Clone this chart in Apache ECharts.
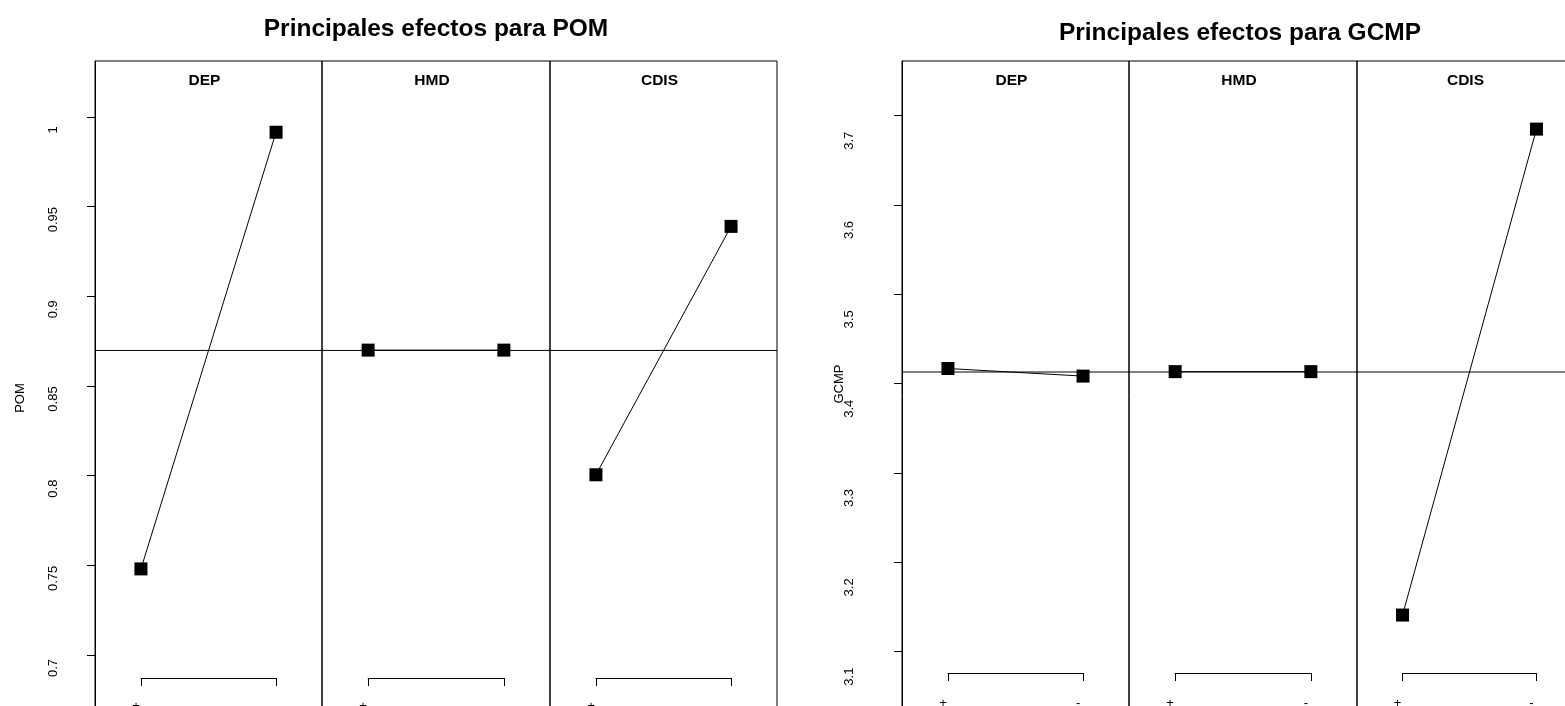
<!DOCTYPE html>
<html><head><meta charset="utf-8">
<script src="https://cdn.jsdelivr.net/npm/echarts@6/dist/echarts.min.js"></script>
<style>html,body{margin:0;padding:0;overflow:hidden;background:#fff;width:1565px;height:706px}#c{width:1600px;height:760px}</style>
</head><body><div id="c"></div>
<script>
// ---- data ----
const factors = ['DEP', 'HMD', 'CDIS'];
const levels = ['+', '-'];
const pomDEP = [0.748, 0.9915];
const pomHMD = [0.870, 0.870];
const pomCDIS = [0.8005, 0.939];
const gcmpDEP = [3.4170, 3.4085];
const gcmpHMD = [3.4135, 3.4135];
const gcmpCDIS = [3.141, 3.685];
const pomTicks = [0.7, 0.75, 0.8, 0.85, 0.9, 0.95, 1];
const gcmpTicks = [3.1, 3.2, 3.3, 3.4, 3.5, 3.6, 3.7];
const titles = ['Principales efectos para POM', 'Principales efectos para GCMP'];
const yNames = ['POM', 'GCMP'];

// ---- layout ----
const FONT = '"Liberation Sans", Arial, Helvetica, sans-serif';
const xMin = 0.66, xMax = 2.34;
const panels = [
  { left: 95, widths: [227, 228, 227], top: 61, bottom: 735, yMin: 0.65538, yMax: 1.03123,
    ticks: pomTicks, vals: [pomDEP, pomHMD, pomCDIS], tickMargin: 35, labelShift: 13,
    name: yNames[0], nameX: 20, nameY: 398, title: titles[0], titleX: 436, titleY: 29,
    bracketY: 678, bracketMargin: 22 },
  { left: 902, widths: [227, 228, 225], top: 61, bottom: 730, yMin: 3.01232, yMax: 3.76125,
    ticks: gcmpTicks, vals: [gcmpDEP, gcmpHMD, gcmpCDIS], tickMargin: 46, labelShift: 25,
    name: yNames[1], nameX: 839, nameY: 384, title: titles[1], titleX: 1240, titleY: 33,
    bracketY: 673, bracketMargin: 24 }
];

const grids = [], xAxes = [], yAxes = [], series = [], graphics = [];
const black = '#000';

panels.forEach(p => {
  const all = p.vals.flat();
  const mean = all.reduce((a, b) => a + b, 0) / all.length;
  let L = p.left;
  p.vals.forEach((vals, j) => {
    const W = p.widths[j];
    const gi = grids.length;
    grids.push({ left: L, top: p.top, width: W, height: p.bottom - p.top, show: true,
      borderColor: black, borderWidth: 1, backgroundColor: 'transparent' });
    xAxes.push({ type: 'value', gridIndex: gi, min: xMin, max: xMax, show: false });
    yAxes.push({ type: 'value', gridIndex: gi, min: p.yMin, max: p.yMax, show: j === 0,
      axisLine: { show: true, lineStyle: { color: black, width: 1 } },
      axisTick: { show: true, length: 8, customValues: p.ticks, lineStyle: { color: black } },
      axisLabel: { rotate: 90, margin: p.tickMargin, fontSize: 13, color: black, fontFamily: FONT,
        customValues: p.ticks, padding: [0, 2 * p.labelShift, 0, 0] },
      splitLine: { show: false } });
    // grand mean line across the sub-panel
    series.push({ type: 'line', xAxisIndex: gi, yAxisIndex: gi, silent: true, symbol: 'none',
      data: [[xMin, mean], [xMax, mean]], lineStyle: { color: black, width: 1 } });
    // effect line with points
    series.push({ type: 'line', xAxisIndex: gi, yAxisIndex: gi, silent: true,
      data: levels.map((l, i) => [i + 1, vals[i]]),
      symbol: 'rect', symbolSize: 13, itemStyle: { color: black },
      lineStyle: { color: black, width: 1 } });
    // bracket axis
    const bg = grids.length;
    grids.push({ left: L + (1 - xMin) / (xMax - xMin) * W, width: W / (xMax - xMin),
      top: p.bracketY - 1, height: 1, show: false });
    xAxes.push({ type: 'category', gridIndex: bg, data: levels, boundaryGap: false, position: 'bottom',
      axisLine: { show: true, lineStyle: { color: black, width: 1 } },
      axisTick: { show: true, length: 8, lineStyle: { color: black } },
      axisLabel: { margin: p.bracketMargin, fontSize: 13, color: black, fontFamily: FONT, interval: 0,
        padding: [0, 10, 0, 0] } });
    yAxes.push({ type: 'value', gridIndex: bg, show: false });
    // strip label
    graphics.push({ type: 'text', x: L + W / 2 - 4, y: 81, silent: true,
      style: { text: factors[j], font: 'bold 15.5px ' + FONT, textAlign: 'center', textVerticalAlign: 'middle', fill: black } });
    L += W;
  });
  graphics.push({ type: 'text', x: p.titleX, y: p.titleY, silent: true,
    style: { text: p.title, font: 'bold 24.5px ' + FONT, textAlign: 'center', textVerticalAlign: 'middle', fill: black } });
  graphics.push({ type: 'text', x: p.nameX, y: p.nameY, rotation: Math.PI / 2, silent: true,
    style: { text: p.name, font: '13px ' + FONT, textAlign: 'center', textVerticalAlign: 'middle', fill: black } });
});

const chart = echarts.init(document.getElementById('c'));
chart.setOption({
  animation: false,
  backgroundColor: '#fff',
  grid: grids, xAxis: xAxes, yAxis: yAxes, series: series, graphic: graphics
});
</script></body></html>
